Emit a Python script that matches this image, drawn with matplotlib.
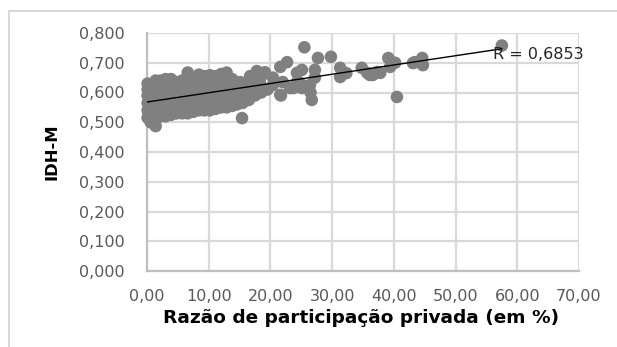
import matplotlib
matplotlib.use('Agg')
import matplotlib.pyplot as plt
from matplotlib.patches import Rectangle
from matplotlib.ticker import FuncFormatter

# data (x = razao de participacao privada, y = IDH-M)
priv = [
    0.1, 0.1, 0.1, 0.1, 0.1, 0.1,
    0.6, 0.6, 0.6, 0.6, 0.6, 0.6,
    1.4, 1.4, 1.4, 1.4, 1.4, 1.4, 1.4,
    2.2, 2.2, 2.2, 2.2, 2.2, 2.2,
    3.0, 3.0, 3.0, 3.0, 3.0, 3.0,
    3.9, 3.9, 3.9, 3.9, 3.9, 3.9,
    4.8, 4.8, 4.8, 4.8, 4.8,
    5.7, 5.7, 5.7, 5.7, 5.7,
    6.6, 6.6, 6.6, 6.6, 6.6, 6.6,
    7.5, 7.5, 7.5, 7.5, 7.5,
    8.4, 8.4, 8.4, 8.4, 8.4, 8.4,
    9.3, 9.3, 9.3, 9.3, 9.3,
    10.2, 10.2, 10.2, 10.2, 10.2,
    11.1, 11.1, 11.1, 11.1, 11.1,
    12.0, 12.0, 12.0, 12.0, 12.0,
    12.9, 12.9, 12.9, 12.9, 12.9,
    13.8, 13.8, 13.8, 13.8,
    14.6, 14.6, 14.6, 15.1,
    15.5, 15.5, 15.5, 15.4,
    16.5, 16.5, 16.5, 16.7,
    17.5, 17.2, 17.5, 17.8,
    18.5, 18.3, 18.5,
    19.5, 19.1,
    20.4, 20.4, 21.6, 21.7,
    21.6, 22.0, 22.7, 23.2, 23.7,
    24.3, 24.3, 24.8, 25.1, 25.1,
    25.5, 26.4, 26.5, 26.7, 27.2, 27.2,
    27.7, 29.8, 31.3, 31.3, 32.3,
    34.8, 35.7, 36.1, 36.6, 37.3, 37.8,
    39.1, 39.4, 40.2, 40.5,
    43.1, 43.4, 44.6, 44.7,
    57.5,
]
idhm = [
    0.515, 0.54, 0.565, 0.59, 0.61, 0.63,
    0.50, 0.525, 0.55, 0.575, 0.60, 0.625,
    0.487, 0.515, 0.545, 0.57, 0.595, 0.62, 0.64,
    0.52, 0.545, 0.57, 0.595, 0.62, 0.64,
    0.52, 0.545, 0.57, 0.595, 0.62, 0.645,
    0.525, 0.55, 0.575, 0.60, 0.625, 0.645,
    0.53, 0.56, 0.585, 0.61, 0.635,
    0.53, 0.56, 0.59, 0.615, 0.64,
    0.53, 0.56, 0.59, 0.62, 0.645, 0.667,
    0.535, 0.565, 0.595, 0.625, 0.65,
    0.54, 0.57, 0.60, 0.625, 0.65, 0.66,
    0.54, 0.57, 0.60, 0.63, 0.655,
    0.54, 0.57, 0.60, 0.63, 0.658,
    0.545, 0.575, 0.605, 0.635, 0.655,
    0.55, 0.58, 0.61, 0.64, 0.662,
    0.55, 0.58, 0.61, 0.64, 0.667,
    0.555, 0.585, 0.615, 0.645,
    0.56, 0.59, 0.62, 0.635,
    0.565, 0.59, 0.615, 0.514,
    0.575, 0.605, 0.625, 0.655,
    0.59, 0.592, 0.62, 0.672,
    0.60, 0.632, 0.655,
    0.61, 0.668,
    0.625, 0.65, 0.592, 0.59,
    0.686, 0.635, 0.702, 0.615, 0.615,
    0.635, 0.666, 0.632, 0.615, 0.676,
    0.752, 0.625, 0.60, 0.575, 0.676, 0.65,
    0.716, 0.72, 0.683, 0.652, 0.665,
    0.683, 0.666, 0.659, 0.659, 0.669, 0.666,
    0.716, 0.686, 0.70, 0.585,
    0.699, 0.702, 0.716, 0.692,
    0.758,
]

# linear trend line as drawn in the original
trend_x = [0.0, 57.5]
trend_y = [0.568, 0.747]
r_label = 'R = 0,6853'

fig = plt.figure(figsize=(6.17, 3.47), dpi=100)
ax = fig.add_axes([147/617, 1 - 271/347, 432/617, 238/347])

ax.scatter(priv, idhm, s=82, color='#808080', edgecolors='none', zorder=3, clip_on=False)
ax.plot(trend_x, trend_y, color='black', linewidth=1.0, zorder=4)
ax.text(56.0, 0.727, r_label, fontsize=11.5, color='#262626', va='center', ha='left', zorder=5)

ax.set_xlim(0, 70)
ax.set_ylim(0, 0.8)
ax.set_xticks(range(0, 71, 10))
ax.set_yticks([i / 10 for i in range(9)])
ax.xaxis.set_major_formatter(FuncFormatter(lambda v, p: f'{v:.2f}'.replace('.', ',')))
ax.yaxis.set_major_formatter(FuncFormatter(lambda v, p: f'{v:.3f}'.replace('.', ',')))
ax.tick_params(length=0, labelsize=11.5, labelcolor='#595959')
ax.tick_params(axis='y', pad=16)
ax.tick_params(axis='x', pad=13)
ax.grid(color='#d9d9d9', linewidth=1.6)
ax.set_axisbelow(True)
for side in ['top', 'right']:
    ax.spines[side].set_visible(False)
for side in ['left', 'bottom']:
    ax.spines[side].set_color('#bfbfbf')
    ax.spines[side].set_linewidth(1.6)

fig.text(361/617, 1 - 318/347, 'Razão de participação privada (em %)',
         fontsize=13.3, fontweight='bold', ha='center', va='center')
fig.text(52/617, 1 - 152/347, 'IDH-M', fontsize=11.8, fontweight='bold',
         rotation=90, ha='center', va='center')

# outer chart frame (only left and top edges are visible)
fig.patches.append(Rectangle((9/617, -0.1), 1.2, 1 - 11/347 + 0.1,
                             transform=fig.transFigure, fill=False,
                             edgecolor='#d9d9d9', linewidth=1.5))

fig.savefig('out.png', dpi=100)
